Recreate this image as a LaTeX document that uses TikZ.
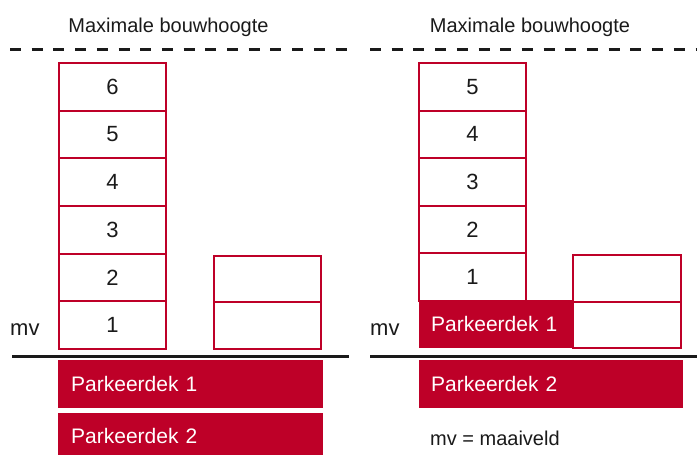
\documentclass[tikz,border=0pt]{standalone}
\usepackage{fontspec}
\setmainfont{Liberation Sans}
\definecolor{rred}{HTML}{BE0028}
\definecolor{ink}{HTML}{1A1A1A}
\begin{document}
\begin{tikzpicture}[x=1pt,y=-1pt,
  floorbox/.style={draw=rred, line width=2pt, fill=white, minimum width=107pt, minimum height=47.6pt, inner sep=0pt, text=ink, font=\fontsize{22}{24}\selectfont},
  deck/.style={fill=rred, text=white, anchor=north west, inner ysep=0pt, inner xsep=13pt, align=left, font=\fontsize{21}{24}\selectfont},
  lbl/.style={inner sep=0pt, text=ink, font=\fontsize{20}{22}\selectfont},
  mvlbl/.style={lbl, font=\fontsize{22}{24}\selectfont},
  maxline/.style={line width=3pt, dash pattern=on 11pt off 10.7pt, ink},
  ground/.style={line width=3pt, ink}]
\useasboundingbox (0,0) rectangle (697,455);

% ---------- left panel ----------
\node[lbl, anchor=base] (tl) at (168.5,32) {Maximale bouwhoogte};
\coordinate (dl1) at (10,49);
\coordinate (dl2) at (347,49);
\draw[maxline] (dl1) -- (dl2);

\node[floorbox] (l6) at (112.5,86.8) {6};
\node[floorbox] (l5) at (112.5,134.5) {5};
\node[floorbox] (l4) at (112.5,182.2) {4};
\node[floorbox] (l3) at (112.5,229.8) {3};
\node[floorbox] (l2) at (112.5,277.5) {2};
\node[floorbox] (l1) at (112.5,325.2) {1};

\node[floorbox, minimum height=47pt] (la) at (267.5,279.5) {};
\node[floorbox, minimum height=47pt] (lb) at (267.5,325.5) {};

\node[mvlbl, anchor=base west] (mvl) at (10,335) {mv};
\coordinate (gl1) at (12,356);
\coordinate (gl2) at (349,356);
\draw[ground] (gl1) -- (gl2);

\node[deck, text width=239pt, minimum height=48pt] (lp1) at (58,360) {Parkeerdek 1};
\node[deck, text width=239pt, minimum height=46pt] (lp2) at (58,413) {Parkeerdek 2};

% ---------- right panel ----------
\node[lbl, anchor=base] (tr) at (530,32) {Maximale bouwhoogte};
\coordinate (dr1) at (370,49);
\coordinate (dr2) at (697,49);
\draw[maxline] (dr1) -- (dr2);

\node[floorbox] (r5) at (472.5,86.8) {5};
\node[floorbox] (r4) at (472.5,134.4) {4};
\node[floorbox] (r3) at (472.5,182) {3};
\node[floorbox] (r2) at (472.5,229.6) {2};
\node[floorbox] (r1) at (472.5,277.2) {1};

\node[deck, inner xsep=12pt, text width=130pt, minimum height=48pt] (rp1) at (419,300) {Parkeerdek 1};

\node[floorbox, minimum width=108pt, minimum height=47pt] (ra) at (627,278.5) {};
\node[floorbox, minimum width=108pt, minimum height=46pt] (rb) at (627,325) {};

\node[mvlbl, anchor=base west] (mvr) at (370,335) {mv};
\coordinate (gr1) at (370,356);
\coordinate (gr2) at (697,356);
\draw[ground] (gr1) -- (gr2);

\node[deck, inner xsep=12pt, text width=240pt, minimum height=48pt] (rp2) at (419,360) {Parkeerdek 2};

\node[lbl, anchor=base west] (leg) at (430,445) {mv = maaiveld};
\end{tikzpicture}
\end{document}
